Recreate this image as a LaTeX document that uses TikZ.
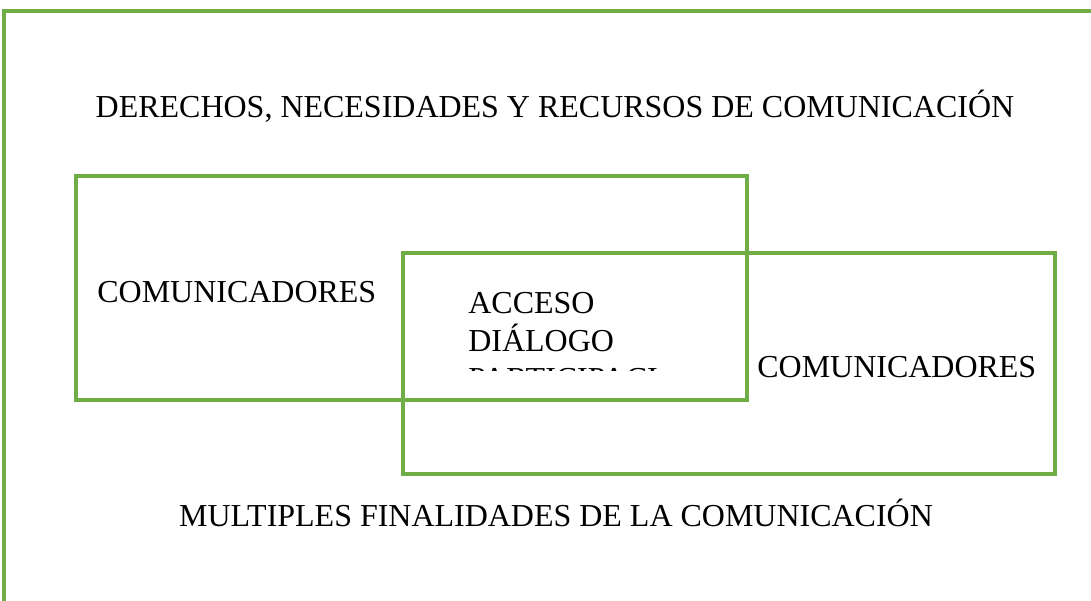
\documentclass[tikz,border=0pt]{standalone}
\usepackage{fontspec}
\setmainfont{Liberation Serif}
\usetikzlibrary{positioning}
\definecolor{boxgreen}{RGB}{112,173,71}

\def\pxsize{0.02cm}

\begin{document}
\begin{tikzpicture}[x=\pxsize, y=-\pxsize, line join=miter]
		\tikzstyle{zone}
		=[draw=boxgreen, line width=1.8pt]
		\tikzstyle{label}
		=[inner sep=0pt, anchor=base west, font=\fontsize{18.2}{22}\selectfont]
		
		\useasboundingbox (0,0) rectangle (1091,601);
		
		% Draw the outer frame (it runs past the right and bottom edges)
		\begin{scope}
		\clip (0,0) rectangle (1091,601);
		\draw[zone] (4,11) rectangle (1110,620);
		\end{scope}
		
		% Draw the two overlapping zones
		\draw[zone] (76,176) rectangle (747,400);
		\draw[zone] (403,253) rectangle (1055,474);
		
		% Texts of the frame
		\node[label, anchor=base] (top) at (555,118) {DERECHOS, NECESIDADES Y RECURSOS DE COMUNICACIÓN};
		\node[label, anchor=base] (bottom) at (556,526) {MULTIPLES FINALIDADES DE LA COMUNICACIÓN};
		
		% Texts of the zones
		\node[label] (left) at (97,302) {COMUNICADORES};
		\node[label] (right) at (757,377) {COMUNICADORES};
		\node[label] (acc) at (468,313) {ACCESO};
		\node[label] (dia) at (468,351) {DIÁLOGO};
		\begin{scope}
		\clip (460,365) rectangle (656,370);
		\node[label] (par) at (468,389) {PARTICIPACIÓN};
		\end{scope}
	\end{tikzpicture}
\end{document}
